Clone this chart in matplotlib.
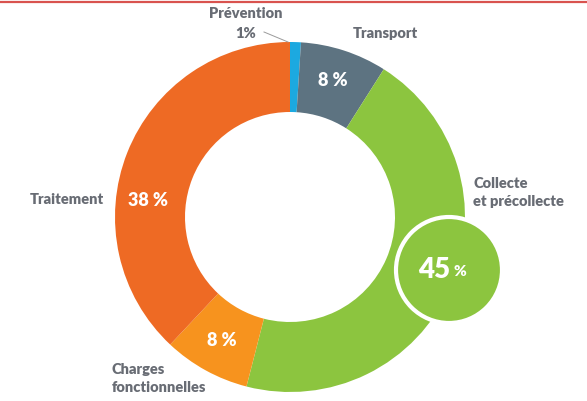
import matplotlib
matplotlib.use("Agg")
import matplotlib.pyplot as plt
from matplotlib.patches import Circle

# Data (clockwise from 12 o'clock)
categories = ["Prévention", "Transport", "Collecte et précollecte",
              "Charges fonctionnelles", "Traitement"]
shares = [1, 8, 45, 8, 38]
colors = ["#1CA9E0", "#5D7381", "#8CC53F", "#F7931E", "#EE6A24"]

GREY = "#686C74"
FONT = ["Lato", "DejaVu Sans"]

W, H = 587, 401
fig = plt.figure(figsize=(W / 100, H / 100), dpi=100)
ax = fig.add_axes([0, 0, 1, 1])


# pixel helper: image y (top-down) -> axes y
def py(y):
    return H - y


cx, cy, R = 290, py(217), 175
ax.pie(shares, colors=colors, startangle=90, counterclock=False,
       radius=R, center=(cx, cy), frame=True,
       wedgeprops=dict(width=R * 0.4, linewidth=0))
ax.set_xlim(0, W)
ax.set_ylim(0, H)
ax.set_aspect("equal")
ax.axis("off")

# red rule at top
ax.plot([0, W], [py(1.5), py(1.5)], color="#D9534F", lw=1.6,
        solid_capstyle="butt", clip_on=False)

# highlighted bubble for the biggest share
ax.add_patch(Circle((449, py(270)), 53, facecolor=colors[2],
                    edgecolor="white", lw=3, zorder=5))
ax.text(450, py(270), f"{shares[2]}", ha="right", va="center", color="white",
        fontsize=20, fontweight="heavy", family=FONT, zorder=6)
ax.text(453, py(271), "%", ha="left", va="center", color="white",
        fontsize=11, fontweight="heavy", family=FONT, zorder=6)

# in-ring labels
inside = dict(ha="center", va="center", color="white", fontsize=13,
              fontweight="heavy", family=FONT)
ax.text(333, py(80), f"{shares[1]} %", **inside)
ax.text(222, py(340), f"{shares[3]} %", **inside)
ax.text(148, py(200), f"{shares[4]} %", **inside)

# outer labels
outer = dict(color=GREY, fontsize=10.5, fontweight="heavy", family=FONT)
ax.text(246, py(14), categories[0], ha="center", va="center", **outer)
ax.text(246, py(34), f"{shares[0]}%", ha="center", va="center", **outer)
ax.plot([264, 288], [py(32), py(42)], color="#9A9A9A", lw=0.7)
ax.text(385, py(33), categories[1], ha="center", va="center", **outer)
ax.text(473, py(183), "Collecte", ha="left", va="center", **outer)
ax.text(473, py(202), "et précollecte", ha="left", va="center", **outer)
ax.text(104, py(200), categories[4], ha="right", va="center", **outer)
ax.text(112, py(370), "Charges", ha="left", va="center", **outer)
ax.text(112, py(388), "fonctionnelles", ha="left", va="center", **outer)

fig.savefig("out.png", dpi=100, facecolor="white")
